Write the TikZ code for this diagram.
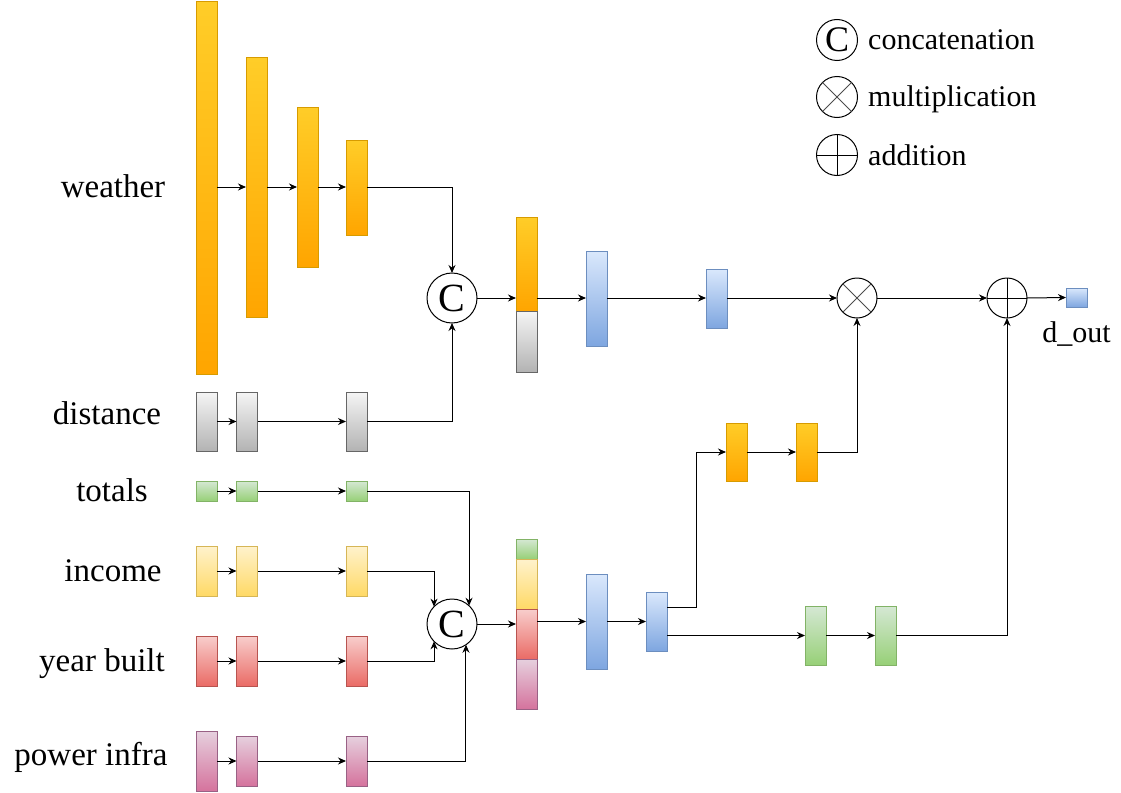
\documentclass[tikz,border=0pt]{standalone}
\usepackage{fontspec}
\setmainfont{Liberation Serif}
\usetikzlibrary{arrows.meta,calc}
\definecolor{otop}{HTML}{FFCD28}\definecolor{obot}{HTML}{FFA500}\definecolor{ostr}{HTML}{D79B00}
\definecolor{gtop}{HTML}{F5F5F5}\definecolor{gbot}{HTML}{B3B3B3}\definecolor{gstr}{HTML}{666666}
\definecolor{ntop}{HTML}{D5E8D4}\definecolor{nbot}{HTML}{97D077}\definecolor{nstr}{HTML}{82B366}
\definecolor{ytop}{HTML}{FFF2CC}\definecolor{ybot}{HTML}{FFD966}\definecolor{ystr}{HTML}{D6B656}
\definecolor{rtop}{HTML}{F8CECC}\definecolor{rbot}{HTML}{EA6B66}\definecolor{rstr}{HTML}{B85450}
\definecolor{ptop}{HTML}{E6D0DE}\definecolor{pbot}{HTML}{D5739D}\definecolor{pstr}{HTML}{996185}
\definecolor{btop}{HTML}{DAE8FC}\definecolor{bbot}{HTML}{7EA6E0}\definecolor{bstr}{HTML}{6C8EBF}
\tikzset{
  blk/.style={draw, inner sep=0pt, outer sep=0pt, minimum width=21pt, line width=1pt},
  ob/.style={blk, draw=ostr, top color=otop, bottom color=obot},
  gb/.style={blk, draw=gstr, top color=gtop, bottom color=gbot},
  nb/.style={blk, draw=nstr, top color=ntop, bottom color=nbot},
  yb/.style={blk, draw=ystr, top color=ytop, bottom color=ybot},
  rb/.style={blk, draw=rstr, top color=rtop, bottom color=rbot},
  pb/.style={blk, draw=pstr, top color=ptop, bottom color=pbot},
  bb/.style={blk, draw=bstr, top color=btop, bottom color=bbot},
  op/.style={circle, draw, line width=1pt, inner sep=0pt, outer sep=0pt, minimum size=#1},
  arr/.style={-{Stealth[length=8pt,width=7pt]}, line width=1pt},
  ln/.style={line width=1pt},
  lab/.style={anchor=base, inner sep=0pt, font=\fontsize{33}{40}\selectfont},
  leg/.style={anchor=base west, inner sep=0pt, font=\fontsize{30}{36}\selectfont},
}
\begin{document}
\begin{tikzpicture}[x=1pt,y=-1pt]
\useasboundingbox (0,0) rectangle (1121,792);
% labels
\node[lab] (lw) at (113,197) {weather};
\node[lab] (ld) at (107,424) {distance};
\node[lab] (lt) at (112,501) {totals};
\node[lab] (li) at (113,581) {income};
\node[lab] (ly) at (102,671) {year built};
\node[lab] (lp) at (91,765) {power infra};
% weather
\node[ob, minimum height=372pt] (w1) at (206.5,188) {};
\node[ob, minimum height=259pt] (w2) at (256.5,187.5) {};
\node[ob, minimum height=160pt] (w3) at (307.5,187) {};
\node[ob, minimum height=95pt] (w4) at (356.5,187.5) {};
% distance
\node[gb, minimum height=59pt] (d1) at (206.5,421.5) {};
\node[gb, minimum height=59pt] (d2) at (247,421.5) {};
\node[gb, minimum height=59pt] (d3) at (356.5,421.5) {};
% totals
\node[nb, minimum height=20pt] (t1) at (206.5,491) {};
\node[nb, minimum height=20pt] (t2) at (247,491) {};
\node[nb, minimum height=20pt] (t3) at (356.5,491) {};
% income
\node[yb, minimum height=50pt] (i1) at (206.5,571) {};
\node[yb, minimum height=50pt] (i2) at (247,571) {};
\node[yb, minimum height=50pt] (i3) at (356.5,571) {};
% year built
\node[rb, minimum height=50pt] (y1) at (206.5,661) {};
\node[rb, minimum height=50pt] (y2) at (247,661) {};
\node[rb, minimum height=50pt] (y3) at (356.5,661) {};
% power infra
\node[pb, minimum height=60pt] (p1) at (206.5,761) {};
\node[pb, minimum height=50pt] (p2) at (247,761) {};
\node[pb, minimum height=50pt] (p3) at (356.5,761) {};
% concat ops
\node[op=50pt, font=\fontsize{40}{40}\selectfont] (c1) at (452,298) {C};
\node[op=50pt, font=\fontsize{40}{40}\selectfont] (c2) at (452,624) {C};
% concatenated vectors
\node[ob, minimum height=94pt] (co) at (526.5,264) {};
\node[gb, minimum height=61pt] (cg) at (526.5,341.5) {};
\node[nb, minimum height=20pt] (cn) at (526.5,549) {};
\node[yb, minimum height=50pt] (cy) at (526.5,584) {};
\node[rb, minimum height=50pt] (cr) at (526.5,634) {};
\node[pb, minimum height=50pt] (cp) at (526.5,684) {};
% blue layers
\node[bb, minimum height=95pt] (b1) at (596.5,298.5) {};
\node[bb, minimum height=59pt] (b2) at (716.5,298.5) {};
\node[bb, minimum height=95pt] (b3) at (596.5,621.5) {};
\node[bb, minimum height=59pt] (b4) at (656.5,621.5) {};
% gate branches
\node[ob, minimum height=58pt] (oa) at (736.5,452) {};
\node[ob, minimum height=58pt] (obb) at (806.5,452) {};
\node[nb, minimum height=59pt] (ga) at (815.5,635.5) {};
\node[nb, minimum height=59pt] (gbb) at (885.5,635.5) {};
% mult and plus
\node[op=40pt] (mu) at (857,298) {};
\draw[ln, draw=black!70] (mu.45) -- (mu.225) (mu.135) -- (mu.315);
\node[op=40pt] (pl) at (1007,298) {};
\draw[ln] (pl.north) -- (pl.south) (pl.west) -- (pl.east);
% output
\node[bb, minimum height=19pt] (dout) at (1076.5,297.5) {};
\node[anchor=base, inner sep=0pt, font=\fontsize{30}{36}\selectfont] (dl) at (1076.5,342) {d\_out};
% legend
\node[op=41pt, font=\fontsize{36}{36}\selectfont] (lc) at (837,40) {C};
\node[leg] (lct) at (868,49) {concatenation};
\node[op=41pt] (lm) at (837,97) {};
\draw[ln, draw=black!70] (lm.45) -- (lm.225) (lm.135) -- (lm.315);
\node[leg] (lmt) at (868,106) {multiplication};
\node[op=41pt] (la) at (837,155) {};
\draw[ln] (la.north) -- (la.south) (la.west) -- (la.east);
\node[leg] (lat) at (868,165) {addition};
% connectors: weather
\draw[arr] (w1.east |- 0,187) -- (w2.west |- 0,187);
\draw[arr] (w2.east |- 0,187) -- (w3.west |- 0,187);
\draw[arr] (w3.east |- 0,187) -- (w4.west |- 0,187);
\draw[arr] (w4.east |- 0,187) -| (c1.north);
% distance
\draw[arr] (d1.east) -- (d2.west);
\draw[arr] (d2.east) -- (d3.west);
\draw[arr] (d3.east) -| (c1.south);
% totals
\draw[arr] (t1.east) -- (t2.west);
\draw[arr] (t2.east) -- (t3.west);
\draw[arr] (t3.east) -| (c2.47);
% income
\draw[arr] (i1.east) -- (i2.west);
\draw[arr] (i2.east) -- (i3.west);
\draw[arr] (i3.east) -| (c2.136);
% year built
\draw[arr] (y1.east) -- (y2.west);
\draw[arr] (y2.east) -- (y3.west);
\draw[arr] (y3.east) -| (c2.224);
% power infra
\draw[arr] (p1.east) -- (p2.west);
\draw[arr] (p2.east) -- (p3.west);
\draw[arr] (p3.east) -| (c2.304);
% upper path
\draw[arr] (c1.east) -- (c1.east -| co.west);
\draw[arr] (co.east |- c1) -- (b1.west |- c1);
\draw[arr] (b1.east |- c1) -- (b2.west |- c1);
\draw[arr] (b2.east |- c1) -- (mu.west);
\draw[arr] (mu.east) -- (pl.west);
\draw[arr] (pl.east) -- (dout.west);
% lower path
\draw[arr] (c2.east) -- (c2.east -| cr.west);
\draw[arr] (cr.east |- b3) -- (b3.west);
\draw[arr] (b3.east) -- (b4.west);
\coordinate (k1) at (696,607);
\draw[arr] (b4.east |- k1) -- (k1) |- (oa.west);
\draw[arr] (oa.east) -- (obb.west);
\draw[arr] (obb.east) -| (mu.south);
\draw[arr] (b4.east |- ga.west) -- (ga.west);
\draw[arr] (ga.east) -- (gbb.west);
\draw[arr] (gbb.east) -| (pl.south);
\end{tikzpicture}
\end{document}
